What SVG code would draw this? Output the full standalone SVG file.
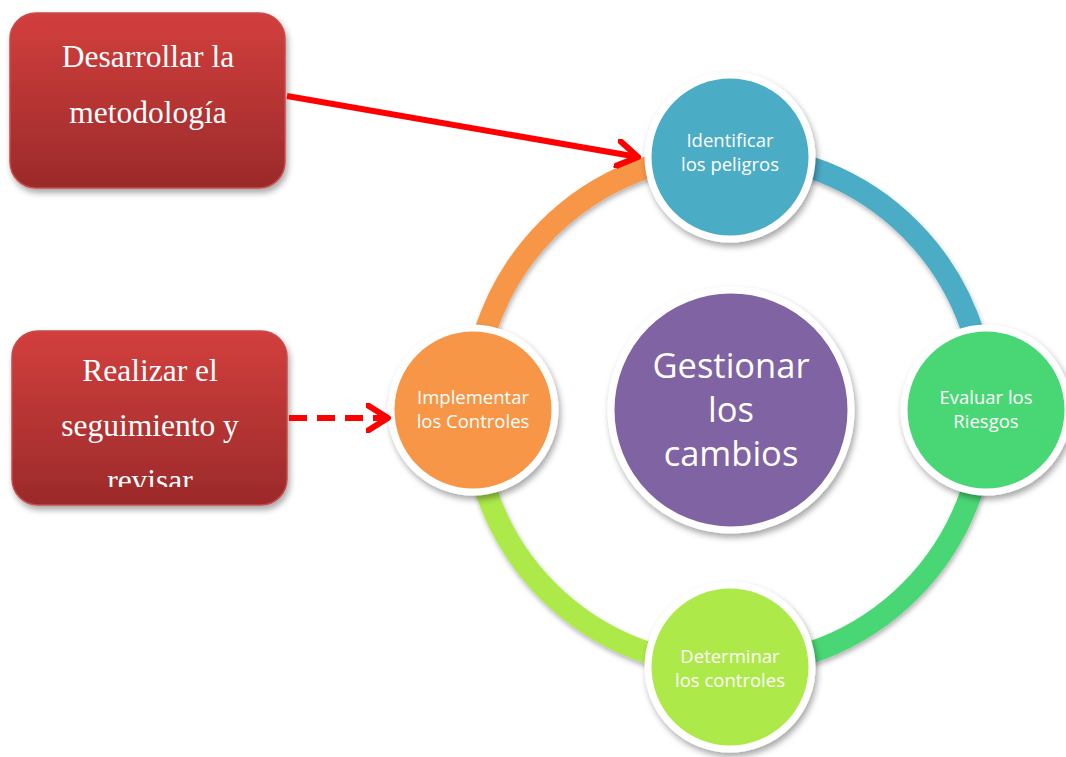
<svg xmlns="http://www.w3.org/2000/svg" width="1066" height="757" viewBox="0 0 1066 757">
  <defs>
    <linearGradient id="redFill" x1="0" y1="0" x2="0" y2="1">
      <stop offset="0" stop-color="#D23F3D"/>
      <stop offset="1" stop-color="#9B2A2A"/>
    </linearGradient>
    <filter id="shadow" x="-20%" y="-20%" width="150%" height="150%">
      <feDropShadow dx="2" dy="4" stdDeviation="3" flood-color="#000" flood-opacity="0.35"/>
    </filter>
    <filter id="ringShadow" x="-10%" y="-10%" width="120%" height="120%">
      <feDropShadow dx="1" dy="3" stdDeviation="2.5" flood-color="#000" flood-opacity="0.3"/>
    </filter>
    <marker id="chev" viewBox="0 0 12 12" refX="9" refY="6" markerWidth="5" markerHeight="5" orient="auto" markerUnits="strokeWidth">
      <path d="M1,1 L9,6 L1,11" fill="none" stroke="#FF0000" stroke-width="2.4" stroke-linecap="round" stroke-linejoin="round"/>
    </marker>
    <clipPath id="clip2">
      <rect x="12" y="331" width="275" height="156"/>
    </clipPath>
    <style>
      .box { fill: url(#redFill); stroke: #C64B4B; stroke-width: 1.5; filter: url(#shadow); }
      .serif { font-family: "Liberation Serif", "Times New Roman", serif; font-size: 31.5px; fill: #FFFFFF; text-anchor: middle; }
      .node { stroke: #FFFFFF; stroke-width: 7; filter: url(#shadow); }
      .lbl { font-family: "Open Sans", "Noto Sans", sans-serif; font-size: 18.5px; fill: #FFFFFF; text-anchor: middle; }
      .big { font-family: "Open Sans", "Noto Sans", sans-serif; font-size: 34.5px; fill: #FFFFFF; text-anchor: middle; }
      .arc { fill: none; stroke-width: 22; }
      .link { fill: none; stroke: #FF0000; stroke-width: 6; marker-end: url(#chev); }
    </style>
  </defs>

  <rect width="1066" height="757" fill="#FFFFFF"/>

  <!-- cycle ring, one arc per step -->
  <g id="ring" filter="url(#ringShadow)">
    <path class="arc" stroke="#4BACC6" d="M729,154 A256,256 0 0 1 985,410"/>
    <path class="arc" stroke="#48D774" d="M985,410 A256,256 0 0 1 729,666"/>
    <path class="arc" stroke="#ADE94A" d="M729,666 A256,256 0 0 1 473,410"/>
    <path class="arc" stroke="#F79646" d="M473,410 A256,256 0 0 1 729,154"/>
  </g>

  <g id="node-centro">
    <circle class="node" cx="731" cy="410" r="120" fill="#8064A2"/>
    <text class="big" x="731" y="378">Gestionar</text>
    <text class="big" x="731" y="422">los</text>
    <text class="big" x="731" y="466">cambios</text>
  </g>

  <g id="node-identificar">
    <circle class="node" cx="730" cy="157" r="82" fill="#4BACC6"/>
    <text class="lbl" x="730" y="147">Identificar</text>
    <text class="lbl" x="730" y="171">los peligros</text>
  </g>

  <g id="node-evaluar">
    <circle class="node" cx="986" cy="410" r="82" fill="#48D774"/>
    <text class="lbl" x="986" y="404">Evaluar los</text>
    <text class="lbl" x="986" y="428">Riesgos</text>
  </g>

  <g id="node-determinar">
    <circle class="node" cx="730" cy="667" r="82" fill="#ADE94A"/>
    <text class="lbl" x="730" y="663">Determinar</text>
    <text class="lbl" x="730" y="687">los controles</text>
  </g>

  <g id="node-implementar">
    <circle class="node" cx="473" cy="410" r="82" fill="#F79646"/>
    <text class="lbl" x="473" y="404">Implementar</text>
    <text class="lbl" x="473" y="428">los Controles</text>
  </g>

  <g id="node-desarrollar">
    <rect class="box" x="10" y="13" width="275" height="175" rx="26"/>
    <text class="serif" x="148" y="67">Desarrollar la</text>
    <text class="serif" x="148" y="123">metodología</text>
  </g>

  <g id="node-realizar">
    <rect class="box" x="12" y="331" width="275" height="174" rx="26"/>
    <g clip-path="url(#clip2)">
      <text class="serif" x="150" y="381">Realizar el</text>
      <text class="serif" x="150" y="436">seguimiento y</text>
      <text class="serif" x="150" y="491">revisar</text>
    </g>
  </g>

  <g id="connectors">
    <line class="link" x1="287" y1="96" x2="638" y2="157"/>
    <line class="link" x1="289" y1="418" x2="388" y2="418" stroke-dasharray="18,10"/>
  </g>
</svg>
